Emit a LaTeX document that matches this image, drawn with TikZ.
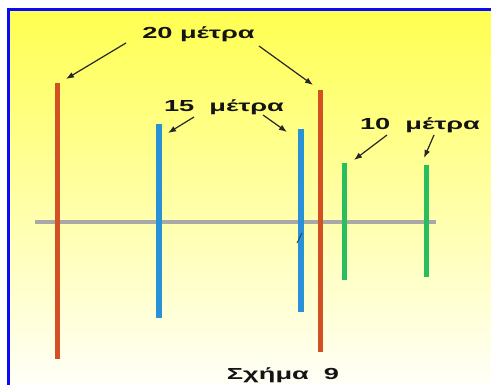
\documentclass[tikz,border=0pt]{standalone}
\usepackage{fontspec}
\usepackage{graphicx}
\usepackage{xcolor}
\newfontfamily\lblfont{Liberation Sans}
\usetikzlibrary{
    arrows.meta
}

\definecolor{barred}{RGB}{210,80,35}
\definecolor{barblue}{RGB}{40,145,215}
\definecolor{bargreen}{RGB}{40,190,95}
\definecolor{groundgray}{RGB}{168,168,168}
\definecolor{frameblue}{RGB}{10,10,250}

\newcommand{\widetext}[1]{\scalebox{1.7}[1]{#1}}

\begin{document}
\begin{tikzpicture}[
    x=1pt, y=-1pt,
    lbl/.style={
        font=\lblfont\bfseries\fontsize{16}{18}\selectfont,
        text=black!92,
        inner sep=0pt,
        anchor=base
    },
    pole/.style={
        line width=#1,
        line cap=butt
    },
    pole/.default=5pt,
    arrow/.style={
        -{Latex[length=8pt,width=6pt]},
        line width=1.2pt,
        draw=black!85
    }
]
\useasboundingbox (0,0) rectangle (491,385);

% =========================================================
% Background and frame
% =========================================================
\shade[top color={rgb,255:red,255;green,255;blue,80},
       middle color={rgb,255:red,255;green,250;blue,185},
       bottom color={rgb,255:red,255;green,255;blue,248}]
    (8.5,9.5) rectangle (491,385);
\draw[frameblue, line width=3pt] (8.5,385) -- (8.5,9.5) -- (491,9.5);

% =========================================================
% Ground line
% =========================================================
\draw[groundgray, line width=4pt] (35,222) -- (436,222);

% =========================================================
% Poles
% =========================================================
\draw[pole, barred] (57,83) -- (57,359);
\draw[pole=6pt, barblue] (159,124) -- (159,318);
\draw[pole=6pt, barblue] (301,129) -- (301,312);
\draw[pole, barred] (320,90) -- (320,352);
\draw[pole, bargreen] (344,163) -- (344,280);
\draw[pole, bargreen] (426,165) -- (426,277);

% =========================================================
% Labels
% =========================================================
\node[lbl] (len20) at (198.5,39) {\widetext{20 μέτρα}};
\node[lbl] (len15) at (224,112) {\widetext{15\ \ μέτρα}};
\node[lbl] (len10) at (420,130) {\widetext{10\ \ μέτρα}};
\node[lbl] (caption) at (283,380) {\widetext{Σχήμα\ \ 9}};

% arrow tails and heads
\coordinate (t20a) at (126,43);
\coordinate (h20a) at (66,79);
\coordinate (t20b) at (259,46);
\coordinate (h20b) at (313,85);
\coordinate (t15a) at (194,117);
\coordinate (h15a) at (168,133);
\coordinate (t15b) at (263,115);
\coordinate (h15b) at (287,132);
\coordinate (t10a) at (387,135);
\coordinate (h10a) at (354,160);
\coordinate (t10b) at (434,135);
\coordinate (h10b) at (424,158);

% =========================================================
% Arrows
% =========================================================
\draw[arrow] (t20a) -- (h20a);
\draw[arrow] (t20b) -- (h20b);
\draw[arrow] (t15a) -- (h15a);
\draw[arrow] (t15b) -- (h15b);
\draw[arrow] (t10a) -- (h10a);
\draw[arrow] (t10b) -- (h10b);

% stray mark
\coordinate (markA) at (297,243);
\coordinate (markB) at (302,233);
\draw[black!80, line width=0.8pt] (markA) -- (markB);

\end{tikzpicture}
\end{document}
